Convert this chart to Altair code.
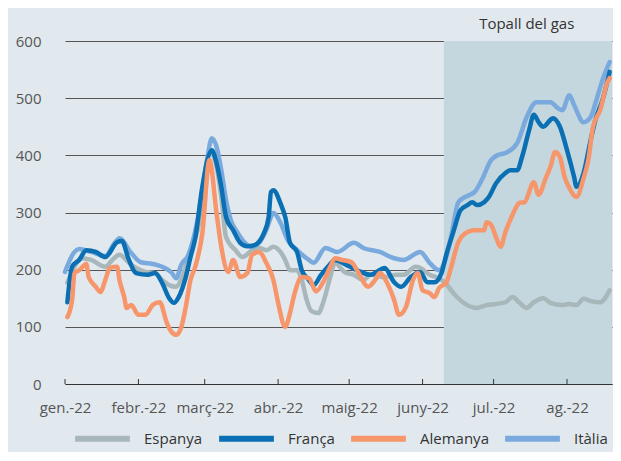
import altair as alt
import pandas as pd
from datetime import date, timedelta

countries = ["Espanya", "França", "Alemanya", "Itàlia"]
colors = ["#a8b7ba", "#0b6fb4", "#f7956b", "#7aaadd"]
draw_order = ["Espanya", "Itàlia", "França", "Alemanya"]

# day offsets from 1 Jan 2022 and prices (EUR/MWh)
esp_day = [1, 4, 7, 11, 17, 20, 23, 27, 30, 34, 38, 41, 44, 47, 49, 53, 56, 61, 63, 66, 68, 72, 75, 79, 82, 85, 88, 91, 93, 95, 98, 100, 102, 104, 107, 109, 112, 114, 118, 122, 126, 129, 135, 140, 143, 148, 150, 154, 158, 161, 164, 168, 174, 178, 182, 186, 189, 192, 195, 198, 202, 205, 210, 213, 216, 219, 222, 226, 230]
esp_val = [177, 205, 220, 217, 205, 217, 226, 212, 203, 196, 194, 182, 173, 170, 182, 234, 269, 404, 397, 327, 257, 234, 222, 234, 238, 234, 240, 231, 217, 199, 199, 182, 148, 128, 124, 142, 187, 212, 196, 191, 182, 191, 187, 191, 191, 205, 203, 191, 185, 175, 159, 143, 133, 138, 140, 143, 152, 142, 133, 143, 150, 142, 138, 140, 138, 149, 145, 143, 164]

fra_day = [1, 3, 6, 9, 13, 17, 22, 24, 27, 30, 35, 38, 41, 44, 46, 48, 51, 53, 55, 58, 62, 64, 66, 68, 71, 74, 77, 80, 84, 86, 87, 88, 91, 93, 95, 98, 100, 103, 105, 108, 111, 114, 119, 125, 129, 135, 139, 142, 146, 150, 153, 156, 159, 161, 164, 167, 170, 172, 174, 177, 179, 182, 186, 188, 191, 193, 196, 198, 200, 202, 205, 206, 209, 212, 215, 216, 219, 222, 224, 227, 230]
fra_val = [143, 205, 217, 234, 231, 222, 248, 250, 217, 194, 191, 194, 177, 150, 142, 152, 187, 222, 255, 345, 409, 386, 345, 292, 269, 247, 241, 243, 264, 292, 336, 339, 316, 292, 247, 231, 199, 182, 173, 190, 205, 217, 208, 196, 191, 203, 178, 170, 187, 196, 178, 178, 194, 226, 266, 304, 313, 318, 313, 318, 327, 351, 369, 374, 374, 397, 444, 471, 458, 450, 462, 465, 450, 409, 362, 345, 369, 427, 462, 497, 546]

ale_day = [1, 3, 4, 6, 9, 10, 13, 15, 17, 19, 22, 23, 25, 26, 28, 31, 34, 37, 40, 43, 45, 47, 49, 51, 53, 55, 58, 61, 64, 66, 69, 71, 74, 77, 79, 82, 85, 88, 90, 93, 95, 97, 100, 103, 106, 109, 112, 114, 117, 121, 124, 128, 131, 133, 136, 139, 141, 144, 147, 149, 151, 154, 156, 158, 161, 163, 166, 170, 173, 177, 178, 180, 182, 184, 186, 189, 192, 194, 198, 200, 203, 205, 207, 209, 211, 213, 216, 219, 221, 223, 226, 229, 230]
ale_val = [117, 147, 194, 199, 210, 187, 170, 161, 182, 203, 205, 182, 152, 133, 138, 121, 121, 138, 143, 107, 91, 86, 98, 135, 182, 205, 264, 392, 299, 240, 196, 217, 187, 194, 226, 231, 212, 182, 142, 100, 124, 159, 187, 185, 162, 178, 205, 220, 217, 213, 194, 170, 182, 194, 177, 147, 121, 135, 182, 194, 164, 159, 152, 168, 177, 203, 247, 266, 269, 269, 283, 278, 257, 240, 266, 296, 317, 318, 353, 331, 360, 380, 406, 397, 362, 343, 327, 360, 392, 450, 479, 527, 535]

ita_day = [0, 4, 6, 11, 17, 21, 23, 28, 32, 37, 41, 45, 47, 49, 52, 56, 60, 62, 64, 66, 68, 70, 73, 76, 79, 82, 85, 88, 91, 94, 98, 103, 105, 110, 115, 122, 126, 133, 139, 143, 150, 154, 158, 160, 163, 166, 168, 171, 173, 176, 180, 183, 186, 191, 195, 199, 205, 208, 210, 213, 215, 219, 222, 224, 227, 230]
ita_val = [196, 231, 236, 231, 224, 247, 255, 229, 213, 210, 205, 195, 185, 208, 225, 287, 392, 430, 415, 374, 322, 287, 264, 247, 240, 247, 269, 299, 282, 252, 234, 217, 212, 238, 231, 247, 238, 231, 220, 217, 231, 212, 199, 210, 257, 317, 325, 331, 336, 357, 392, 401, 404, 422, 467, 493, 493, 483, 479, 505, 488, 458, 467, 491, 532, 563]

month_labels = ["gen.-22", "febr.-22", "març-22", "abr.-22", "maig-22", "juny-22", "jul.-22", "ag.-22"]
month_starts = ["2022-01-01", "2022-02-01", "2022-03-01", "2022-04-01", "2022-05-01", "2022-06-01", "2022-07-01", "2022-08-01"]
y_ticks = [0, 100, 200, 300, 400, 500, 600]
x_start, x_end = "2022-01-01", "2022-08-20"
cap_start, cap_end = "2022-06-10", "2022-08-20"
cap_label = "Topall del gas"
cap_label_date = "2022-07-15"

FONT = "Open Sans"
W, H = 547, 343

base = date(2022, 1, 1)
series = {"Espanya": (esp_day, esp_val), "França": (fra_day, fra_val),
          "Alemanya": (ale_day, ale_val), "Itàlia": (ita_day, ita_val)}
rows = []
for name, (days, vals) in series.items():
    for d, v in zip(days, vals):
        rows.append({"country": name, "date": (base + timedelta(days=d)).isoformat() + "T00:00:00", "value": v})
df = pd.DataFrame(rows)

def ts(s):
    return s + "T00:00:00"

x_scale = alt.Scale(domain=[ts(x_start), ts(x_end)])
y_scale = alt.Scale(domain=[0, 600])
label_expr = "[" + ",".join("'" + m + "'" for m in month_labels) + "][month(datum.value)]"

shade = alt.Chart(pd.DataFrame({"start": [ts(cap_start)], "end": [ts(cap_end)], "y0": [0], "y1": [600]})).mark_rect(
    color="#c4d7de").encode(
    x=alt.X("start:T", scale=x_scale,
            axis=alt.Axis(values=[alt.DateTime(year=2022, month=i + 1, date=1) for i in range(len(month_labels))],
                          labelExpr=label_expr, title=None, grid=False, ticks=False, labelOverlap=False,
                          labelFlush=False, labelBound=False,
                          domain=True, domainColor="#333333", domainWidth=1.2,
                          labelFont=FONT, labelFontSize=15, labelColor="#555555", labelPadding=16)),
    x2="end:T",
    y=alt.Y("y0:Q", scale=y_scale,
            axis=alt.Axis(values=y_ticks, title=None, grid=True, gridColor="#555555", gridWidth=1,
                          domain=False, ticks=False, labelFont=FONT, labelFontSize=15,
                          labelColor="#555555", labelPadding=24)),
    y2="y1:Q",
)

tick_df = pd.DataFrame({"date": [ts(m) for m in month_starts]})
ticks = alt.Chart(tick_df).mark_rule(color="#333333", strokeWidth=1).encode(
    x=alt.X("date:T", scale=x_scale), y=alt.value(H), y2=alt.value(H - 5))

label = alt.Chart(pd.DataFrame({"date": [ts(cap_label_date)], "text": [cap_label]})).mark_text(
    font=FONT, fontSize=15, color="#333333", baseline="middle", align="center").encode(
    x=alt.X("date:T", scale=x_scale), y=alt.value(-17), text="text:N")

color_enc = alt.Color("country:N", scale=alt.Scale(domain=countries, range=colors),
                      legend=alt.Legend(title=None, orient="none", direction="horizontal",
                                        legendX=7, legendY=367, symbolType="stroke",
                                        symbolSize=3000, symbolStrokeWidth=6, labelOffset=11,
                                        columnPadding=4, labelFont=FONT, labelFontSize=15,
                                        labelColor="#333333", symbolOpacity=1))

lines = []
for name in draw_order:
    lines.append(alt.Chart(df).transform_filter(alt.datum.country == name).mark_line(
        strokeWidth=4.5, strokeJoin="round", strokeCap="round", interpolate="monotone").encode(
        x=alt.X("date:T", scale=x_scale),
        y=alt.Y("value:Q", scale=y_scale),
        color=color_enc))

chart = alt.layer(shade, ticks, *lines, label).properties(
    width=W, height=H, background="#e1e9ef",
    padding={"left": 57, "top": 33, "right": 1, "bottom": 68},
    autosize=alt.AutoSizeParams(type="none"),
).configure_view(stroke=None)

chart.save("out.html", embed_options={"renderer": "svg", "actions": False})
